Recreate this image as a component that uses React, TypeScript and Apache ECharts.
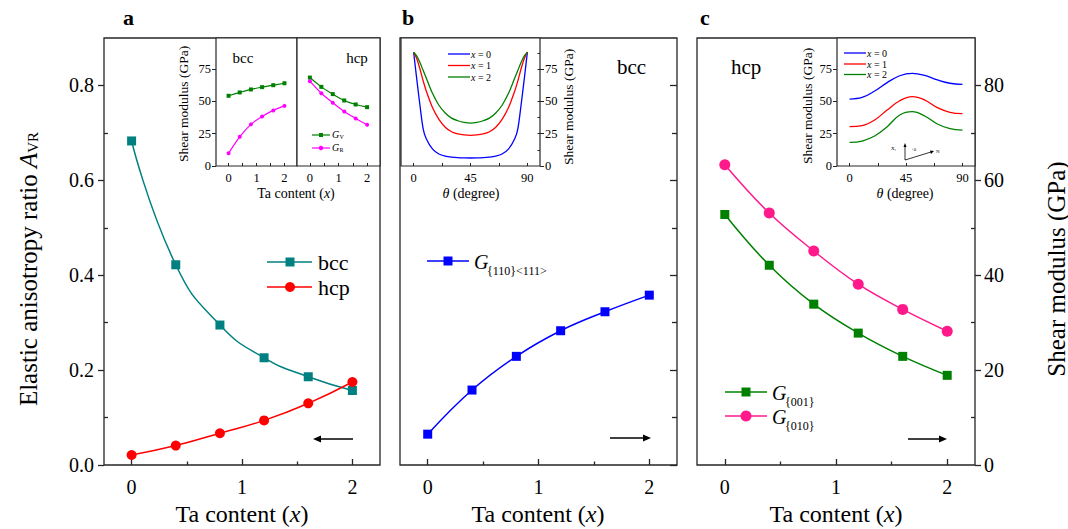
import React, { useEffect, useRef } from "react";
import * as echarts from "echarts";

// ---------- data ----------
const taX = [0, 0.4, 0.8, 1.2, 1.6, 2];
const aBcc = [0.683, 0.422, 0.295, 0.226, 0.186, 0.157];
const aHcp = [0.021, 0.041, 0.067, 0.094, 0.13, 0.175];
const bG110 = [6.5, 15.8, 22.9, 28.3, 32.3, 35.8];
const cG001 = [52.8, 42.1, 33.9, 27.8, 22.9, 18.9];
const cG010 = [63.3, 53.1, 45.1, 38.1, 32.8, 28.2];

const insBccGV = [54.3, 56.9, 59.2, 61.0, 62.5, 64.0];
const insBccGR = [9.8, 22.6, 32.2, 38.3, 43.0, 46.5];
const insHcpGV = [68.4, 61.2, 55.6, 50.7, 47.6, 45.5];
const insHcpGR = [65.6, 56.3, 48.9, 42.2, 36.8, 31.9];

const thetaB = [0, 2.5, 5, 7.5, 10, 15, 20, 25, 30, 35, 40, 45, 50, 55, 60, 65, 70, 75, 80, 82.5, 85, 87.5, 90];
const bX0 = [88, 67, 47, 29, 21, 13, 9.3, 7.7, 6.9, 6.5, 6.3, 6.2, 6.3, 6.5, 6.9, 7.7, 9.3, 13, 21, 29, 47, 67, 88];
const bX1 = [88, 83, 75, 66, 58, 45, 36, 30, 26.5, 24.8, 24, 23.7, 24, 24.8, 26.5, 30, 36, 45, 58, 66, 75, 83, 88];
const bX2 = [88, 85, 80, 74, 68, 56, 47, 41, 37, 35, 33.7, 33.2, 33.7, 35, 37, 41, 47, 56, 68, 74, 80, 85, 88];

const thetaC = [0, 10, 20, 30, 40, 50, 60, 70, 80, 90];
const cX0 = [51.8, 53, 58, 64.5, 69.8, 71.6, 70, 66.6, 64, 63.1];
const cX1 = [30.4, 31.2, 35.6, 43.3, 50.5, 53.6, 51, 45.1, 41.5, 40.5];
const cX2 = [18.3, 19.3, 23.2, 30.4, 39.4, 42, 38.7, 32.5, 28.9, 27.8];

const mainXTicks = [0, 1, 2];
const mainXMinor = [0.5, 1.5];
const leftYTicks = [0, 0.2, 0.4, 0.6, 0.8];
const leftYMinor = [0.1, 0.3, 0.5, 0.7];
const rightYTicks = [0, 20, 40, 60, 80];
const rightYMinor = [10, 30, 50, 70];
const insGTicks = [0, 25, 50, 75];
const insTaTicks = [0, 1, 2];
const insThetaTicks = [0, 45, 90];

// ---------- styles ----------
const AX = "#262626";
const SERIF = "Liberation Serif";
const TEAL = "#008080";
const RED = "#ff0000";
const BLUE = "#0000ff";
const GREEN = "#008000";
const PINK = "#ff1a8c";
const MAG = "#ff00ff";

const zip = (xs: number[], ys: number[]) => xs.map((x, i) => [x, ys[i]]);

function ax(extra: any) {
  return {
    type: "value",
    axisLine: { show: false, onZero: false },
    splitLine: { show: false },
    axisTick: { show: false },
    axisLabel: { show: false },
    ...extra,
  };
}
function ticks(values: number[], len: number, inside: boolean, width = 1.2) {
  return { show: true, inside, length: len, customValues: values, lineStyle: { color: AX, width } };
}
function labels(values: number[], size: number, margin: number, fmt?: (v: number) => string) {
  const o: any = { show: true, customValues: values, fontSize: size, fontFamily: SERIF, color: "#000", margin };
  if (fmt) o.formatter = fmt;
  return o;
}

function txt(x: number, y: number, text: string, size: number, extra: any = {}) {
  return {
    type: "text",
    x,
    y,
    silent: true,
    style: { text, fontSize: size, fontFamily: SERIF, fill: "#000", align: "left", verticalAlign: "middle", ...extra },
  };
}
function seg(x1: number, y1: number, x2: number, y2: number, color: string, w = 1.5) {
  return { type: "line", silent: true, shape: { x1, y1, x2, y2 }, style: { stroke: color, lineWidth: w } };
}
function sq(cx: number, cy: number, s: number, color: string) {
  return { type: "rect", silent: true, shape: { x: cx - s / 2, y: cy - s / 2, width: s, height: s }, style: { fill: color } };
}
function dot(cx: number, cy: number, r: number, color: string) {
  return { type: "circle", silent: true, shape: { cx, cy, r }, style: { fill: color } };
}
function arrow(x1: number, x2: number, y: number, w = 1.5, head = 8, hh = 3.5) {
  const dir = x2 > x1 ? 1 : -1;
  const base = x2 - dir * head;
  return [
    seg(x1, y, base, y, "#000", w),
    {
      type: "polygon",
      silent: true,
      shape: { points: [[x2, y], [base, y - hh], [base, y + hh]] },
      style: { fill: "#000" },
    },
  ];
}
const richTa = (size: number) => ({
  text: "{n|Ta content (}{i|x}{n|)}",
  rich: {
    n: { fontSize: size, fontFamily: SERIF, fill: "#000" },
    i: { fontSize: size, fontFamily: SERIF, fontStyle: "italic", fill: "#000" },
  },
});
const richTheta = (size: number) => ({
  text: "{i|θ}{n| (degree)}",
  rich: {
    n: { fontSize: size, fontFamily: SERIF, fill: "#000" },
    i: { fontSize: size, fontFamily: SERIF, fontStyle: "italic", fill: "#000" },
  },
});
function xLegend(x: number, y: number, label: string, color: string) {
  return [
    seg(x, y, x + 22, y, color, 1.3),
    {
      type: "text",
      x: x + 23,
      y,
      silent: true,
      style: {
        text: "{i|x}{n| = " + label + "}",
        verticalAlign: "middle",
        rich: {
          i: { fontSize: 10, fontFamily: SERIF, fontStyle: "italic", fill: "#000" },
          n: { fontSize: 10, fontFamily: SERIF, fill: "#000" },
        },
      },
    },
  ];
}
function rotTitle(x: number, y: number, text: string, size: number) {
  return {
    type: "text",
    x,
    y,
    rotation: Math.PI / 2,
    silent: true,
    style: { text, fontSize: size, fontFamily: SERIF, fill: "#000", align: "center", verticalAlign: "middle" },
  };
}
function gLegend(x: number, y: number, sub: string) {
  return [txt(x, y + 1, "G", 20, { fontStyle: "italic" }), txt(x + 13, y + 10, sub, 12)];
}

export default function App() {
  const ref = useRef<HTMLDivElement>(null);
  useEffect(() => {
    if (!ref.current) return;
    const chart = echarts.init(ref.current, null, { renderer: "svg" });
    const gridBase = { show: true, borderColor: AX, borderWidth: 1.3 };
    const insetBase = { show: true, borderColor: AX, borderWidth: 1.2, backgroundColor: "#fff" };

    const xMain = (g: number) => [
      ax({ gridIndex: g, min: -0.25, max: 2.25, position: "bottom", axisTick: ticks(mainXTicks, 6, true, 1.3), axisLabel: labels(mainXTicks, 20, 12) }),
      ax({ gridIndex: g, min: -0.25, max: 2.25, position: "bottom", axisTick: ticks(mainXMinor, 3.5, true, 1.3) }),
    ];

    const option: any = {
      animation: false,
      backgroundColor: "#fff",
      grid: [
        { left: 104, top: 38, width: 276, height: 427, ...gridBase },
        { left: 400, top: 38, width: 277, height: 427, ...gridBase },
        { left: 697, top: 38, width: 278, height: 427, ...gridBase },
        { left: 216, top: 38, width: 81, height: 128, ...insetBase },
        { left: 297, top: 38, width: 83, height: 128, ...insetBase },
        { left: 401, top: 38, width: 139, height: 128, ...insetBase },
        { left: 837, top: 38, width: 138, height: 128, ...insetBase },
      ],
      xAxis: [
        ...xMain(0),
        ...xMain(1),
        ...xMain(2),
        ax({ gridIndex: 3, min: -0.45, max: 2.45, position: "bottom", axisTick: ticks([0, 0.5, 1, 1.5, 2], 3, true, 1), axisLabel: labels(insTaTicks, 12.5, 5) }),
        ax({ gridIndex: 4, min: -0.45, max: 2.45, position: "bottom", axisTick: ticks([0, 0.5, 1, 1.5, 2], 3, true, 1), axisLabel: labels(insTaTicks, 12.5, 5) }),
        ax({ gridIndex: 5, min: -10, max: 100, position: "bottom", axisTick: ticks([0, 22.5, 45, 67.5, 90], 3, true, 1), axisLabel: labels(insThetaTicks, 12.5, 5) }),
        ax({ gridIndex: 6, min: -10, max: 100, position: "bottom", axisTick: ticks([0, 22.5, 45, 67.5, 90], 3, true, 1), axisLabel: labels(insThetaTicks, 12.5, 5) }),
      ],
      yAxis: [
        ax({ gridIndex: 0, min: 0, max: 0.9, position: "left", axisTick: ticks(leftYTicks, 6, false, 1.3), axisLabel: labels(leftYTicks, 20, 10, (v: number) => v.toFixed(1)) }),
        ax({ gridIndex: 0, min: 0, max: 0.9, position: "left", axisTick: ticks(leftYMinor, 4, true, 1.3) }),
        ax({ gridIndex: 1, min: 0, max: 90, position: "right", axisTick: ticks(rightYTicks, 7, true, 1.3) }),
        ax({ gridIndex: 1, min: 0, max: 90, position: "right", axisTick: ticks(rightYMinor, 5, true, 1.3) }),
        ax({ gridIndex: 2, min: 0, max: 90, position: "right", axisTick: ticks(rightYTicks, 6, false, 1.3), axisLabel: labels(rightYTicks, 20, 9) }),
        ax({ gridIndex: 2, min: 0, max: 90, position: "right", axisTick: ticks(rightYMinor, 4, true, 1.3) }),
        ax({ gridIndex: 3, min: 0, max: 99, position: "left", axisTick: ticks(insGTicks, 4, false, 1), axisLabel: labels(insGTicks, 12.5, 5) }),
        ax({ gridIndex: 4, min: 0, max: 99, position: "left" }),
        ax({ gridIndex: 5, min: 0, max: 99, position: "right", axisTick: ticks(insGTicks, 4, false, 1), axisLabel: labels(insGTicks, 12.5, 5) }),
        ax({ gridIndex: 6, min: 0, max: 99, position: "left", axisTick: ticks(insGTicks, 4, false, 1), axisLabel: labels(insGTicks, 12.5, 5) }),
        ax({ gridIndex: 5, min: 0, max: 99, position: "right", axisTick: ticks([12.5, 25, 37.5, 50, 62.5, 75, 87.5], 2.5, true, 1) }),
      ],
      series: [
        // panel a
        { type: "line", xAxisIndex: 0, yAxisIndex: 0, data: zip(taX, aBcc), smooth: 0.5, symbol: "rect", symbolSize: 9, itemStyle: { color: TEAL }, lineStyle: { color: TEAL, width: 1.5 }, z: 3 },
        { type: "line", xAxisIndex: 0, yAxisIndex: 0, data: zip(taX, aHcp), smooth: 0.5, symbol: "circle", symbolSize: 10, itemStyle: { color: RED }, lineStyle: { color: RED, width: 1.5 }, z: 4 },
        // panel b
        { type: "line", xAxisIndex: 2, yAxisIndex: 2, data: zip(taX, bG110), smooth: 0.4, symbol: "rect", symbolSize: 9, itemStyle: { color: BLUE }, lineStyle: { color: BLUE, width: 1.5 } },
        // panel c
        { type: "line", xAxisIndex: 4, yAxisIndex: 4, data: zip(taX, cG001), smooth: 0.4, symbol: "rect", symbolSize: 9, itemStyle: { color: GREEN }, lineStyle: { color: GREEN, width: 1.5 } },
        { type: "line", xAxisIndex: 4, yAxisIndex: 4, data: zip(taX, cG010), smooth: 0.4, symbol: "circle", symbolSize: 11, itemStyle: { color: PINK }, lineStyle: { color: PINK, width: 1.5 } },
        // inset a
        { type: "line", xAxisIndex: 6, yAxisIndex: 6, data: zip(taX, insBccGV), smooth: 0.4, symbol: "rect", symbolSize: 4, itemStyle: { color: GREEN }, lineStyle: { color: GREEN, width: 1.2 } },
        { type: "line", xAxisIndex: 6, yAxisIndex: 6, data: zip(taX, insBccGR), smooth: 0.4, symbol: "circle", symbolSize: 4, itemStyle: { color: MAG }, lineStyle: { color: MAG, width: 1.2 } },
        { type: "line", xAxisIndex: 7, yAxisIndex: 7, data: zip(taX, insHcpGV), smooth: 0.4, symbol: "rect", symbolSize: 4, itemStyle: { color: GREEN }, lineStyle: { color: GREEN, width: 1.2 } },
        { type: "line", xAxisIndex: 7, yAxisIndex: 7, data: zip(taX, insHcpGR), smooth: 0.4, symbol: "circle", symbolSize: 4, itemStyle: { color: MAG }, lineStyle: { color: MAG, width: 1.2 } },
        // inset b
        { type: "line", xAxisIndex: 8, yAxisIndex: 8, data: zip(thetaB, bX0), smooth: 0.3, showSymbol: false, lineStyle: { color: BLUE, width: 1.3 } },
        { type: "line", xAxisIndex: 8, yAxisIndex: 8, data: zip(thetaB, bX1), smooth: 0.3, showSymbol: false, lineStyle: { color: RED, width: 1.3 } },
        { type: "line", xAxisIndex: 8, yAxisIndex: 8, data: zip(thetaB, bX2), smooth: 0.3, showSymbol: false, lineStyle: { color: GREEN, width: 1.3 } },
        // inset c
        { type: "line", xAxisIndex: 9, yAxisIndex: 9, data: zip(thetaC, cX0), smooth: 0.4, showSymbol: false, lineStyle: { color: BLUE, width: 1.3 } },
        { type: "line", xAxisIndex: 9, yAxisIndex: 9, data: zip(thetaC, cX1), smooth: 0.4, showSymbol: false, lineStyle: { color: RED, width: 1.3 } },
        { type: "line", xAxisIndex: 9, yAxisIndex: 9, data: zip(thetaC, cX2), smooth: 0.4, showSymbol: false, lineStyle: { color: GREEN, width: 1.3 } },
      ],
      graphic: [
        // panel letters
        txt(123, 17, "a", 22, { fontWeight: "bold" }),
        txt(402, 17, "b", 22, { fontWeight: "bold" }),
        txt(700, 17, "c", 22, { fontWeight: "bold" }),
        // axis titles
        {
          type: "text",
          x: 28,
          y: 269,
          rotation: Math.PI / 2,
          silent: true,
          style: {
            text: "{n|Elastic anisotropy ratio }{i|A}{s|VR}",
            align: "center",
            verticalAlign: "middle",
            rich: {
              n: { fontSize: 25, fontFamily: SERIF, fill: "#000" },
              i: { fontSize: 25, fontFamily: SERIF, fontStyle: "italic", fill: "#000" },
              s: { fontSize: 15, fontFamily: SERIF, fill: "#000", verticalAlign: "bottom" },
            },
          },
        },
        rotTitle(1056, 269, "Shear modulus (GPa)", 25),
        { type: "text", x: 242, y: 514, silent: true, style: { ...richTa(24), align: "center", verticalAlign: "middle" } },
        { type: "text", x: 538, y: 514, silent: true, style: { ...richTa(24), align: "center", verticalAlign: "middle" } },
        { type: "text", x: 836, y: 514, silent: true, style: { ...richTa(24), align: "center", verticalAlign: "middle" } },
        // panel a legend
        seg(267, 262, 312, 262, TEAL),
        sq(290, 262, 9, TEAL),
        txt(318, 262, "bcc", 22),
        seg(267, 287, 312, 287, RED),
        dot(290, 287, 5, RED),
        txt(318, 287, "hcp", 22),
        // panel b legend
        seg(427, 261, 469, 261, BLUE),
        sq(448, 261, 9, BLUE),
        ...gLegend(474, 261, "{110}<111>"),
        txt(617, 67, "bcc", 21),
        // panel c legend
        seg(725, 392, 767, 392, GREEN),
        sq(746, 392, 9, GREEN),
        ...gLegend(772, 392, "{001}"),
        seg(725, 416, 767, 416, PINK),
        dot(746, 416, 5.5, PINK),
        ...gLegend(772, 416, "{010}"),
        txt(731, 67, "hcp", 21),
        // arrows
        ...arrow(353, 313, 439),
        ...arrow(610, 651, 438),
        ...arrow(908, 947, 439),
        // inset a
        txt(243, 58, "bcc", 15, { align: "center" }),
        txt(357, 58, "hcp", 15, { align: "center" }),
        rotTitle(183, 104, "Shear modulus (GPa)", 13.5),
        { type: "text", x: 296, y: 193, silent: true, style: { ...richTa(14), align: "center", verticalAlign: "middle" } },
        seg(312, 135, 330, 135, GREEN, 1.2),
        sq(321, 135, 4, GREEN),
        txt(332, 134, "G", 10, { fontStyle: "italic" }),
        txt(339.5, 137, "V", 6),
        seg(312, 148, 330, 148, MAG, 1.2),
        dot(321, 148, 2.2, MAG),
        txt(332, 147, "G", 10, { fontStyle: "italic" }),
        txt(339.5, 150, "R", 6),
        // inset b
        rotTitle(568, 107, "Shear modulus (GPa)", 13.5),
        { type: "text", x: 471, y: 193, silent: true, style: { ...richTheta(14), align: "center", verticalAlign: "middle" } },
        ...xLegend(448, 54, "0", BLUE),
        ...xLegend(448, 65.5, "1", RED),
        ...xLegend(448, 77, "2", GREEN),
        // inset c
        rotTitle(807, 106, "Shear modulus (GPa)", 13.5),
        { type: "text", x: 905, y: 193, silent: true, style: { ...richTheta(14), align: "center", verticalAlign: "middle" } },
        ...xLegend(844, 53, "0", BLUE),
        ...xLegend(844, 64, "1", RED),
        ...xLegend(844, 74.5, "2", GREEN),
        seg(905, 160, 905, 145, "#000", 0.8),
        { type: "polygon", silent: true, shape: { points: [[905, 143], [903.5, 147], [906.5, 147]] }, style: { fill: "#000" } },
        seg(905, 160, 931, 152, "#000", 0.8),
        { type: "polygon", silent: true, shape: { points: [[934, 151], [930, 150.5], [931, 154]] }, style: { fill: "#000" } },
        txt(891, 148, "X₁", 5),
        txt(911, 149, "+θ", 5),
        txt(936, 151, "N", 5),
      ],
    };
    chart.setOption(option);
    return () => chart.dispose();
  }, []);
  return <div ref={ref} style={{ position: "fixed", left: 0, top: 0, width: 1068, height: 529, background: "#fff" }} />;
}
